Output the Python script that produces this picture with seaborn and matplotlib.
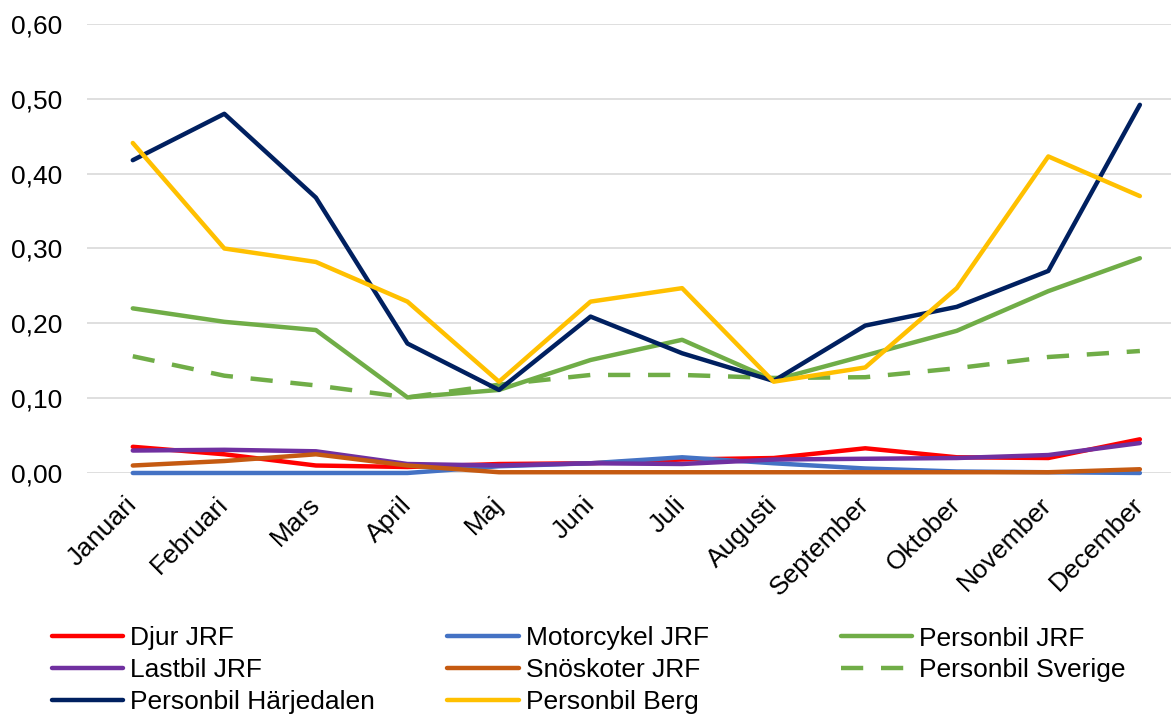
import numpy as np
import pandas as pd
import matplotlib
matplotlib.use("Agg")
import matplotlib.pyplot as plt
import seaborn as sns

# ------------------------------------------------------------
# Data
# ------------------------------------------------------------
months = ["Januari", "Februari", "Mars", "April", "Maj", "Juni", "Juli",
          "Augusti", "September", "Oktober", "November", "December"]

djur_jrf = [0.035, 0.025, 0.010, 0.008, 0.012, 0.013, 0.018, 0.020, 0.033, 0.021, 0.020, 0.045]
motorcykel_jrf = [0.000, 0.000, 0.000, 0.000, 0.009, 0.013, 0.021, 0.013, 0.006, 0.002, 0.001, 0.000]
personbil_jrf = [0.220, 0.202, 0.191, 0.101, 0.111, 0.151, 0.178, 0.124, 0.157, 0.190, 0.243, 0.287]
lastbil_jrf = [0.030, 0.031, 0.029, 0.012, 0.010, 0.013, 0.012, 0.018, 0.019, 0.020, 0.024, 0.040]
snoskoter_jrf = [0.010, 0.016, 0.025, 0.010, 0.001, 0.001, 0.001, 0.001, 0.001, 0.001, 0.001, 0.005]
personbil_sverige = [0.156, 0.130, 0.117, 0.101, 0.118, 0.131, 0.131, 0.127, 0.128, 0.140, 0.155, 0.163]
personbil_harjedalen = [0.418, 0.480, 0.368, 0.173, 0.111, 0.209, 0.160, 0.123, 0.197, 0.222, 0.270, 0.492]
personbil_berg = [0.441, 0.300, 0.282, 0.229, 0.122, 0.229, 0.247, 0.122, 0.141, 0.247, 0.423, 0.370]

series = [
    ("Djur JRF", djur_jrf, "#FF0000", None),
    ("Motorcykel JRF", motorcykel_jrf, "#4472C4", None),
    ("Personbil JRF", personbil_jrf, "#70AD47", None),
    ("Lastbil JRF", lastbil_jrf, "#7030A0", None),
    ("Snöskoter JRF", snoskoter_jrf, "#C55A11", None),
    ("Personbil Sverige", personbil_sverige, "#70AD47", (5, 4)),
    ("Personbil Härjedalen", personbil_harjedalen, "#002060", None),
    ("Personbil Berg", personbil_berg, "#FFC000", None),
]

# ------------------------------------------------------------
# Plot
# ------------------------------------------------------------
sns.set_style("white")
plt.rcParams["font.family"] = ["Liberation Sans", "DejaVu Sans"]
plt.rcParams["text.color"] = "black"
plt.rcParams["xtick.color"] = "black"
plt.rcParams["ytick.color"] = "black"
FS = 19

fig = plt.figure(figsize=(11.71, 7.16), dpi=100)
ax = fig.add_axes([0.0743, 0.3394, 0.9257, 0.6271])

x = np.arange(len(months))
handles = {}
for name, vals, color, dash in series:
    df = pd.DataFrame({"x": x, "y": vals})
    sns.lineplot(data=df, x="x", y="y", ax=ax, color=color, linewidth=3.2,
                 label=name, legend=False)
    line = ax.lines[-1]
    line.set_clip_on(False)
    line.set_solid_capstyle("round")
    if dash is not None:
        line.set_dashes(dash)
    handles[name] = line

ax.set_xlim(-0.5, 11.34)
ax.set_ylim(0, 0.6)
yt = np.arange(0, 0.61, 0.1)
ax.set_yticks(yt)
ax.set_yticklabels([f"{v:.2f}".replace(".", ",") for v in yt], fontsize=FS)
ax.set_xticks(x)
ax.set_xticklabels(months, rotation=45, ha="right", va="center",
                   rotation_mode="anchor", fontsize=FS)
ax.tick_params(axis="y", length=0, pad=18)
ax.tick_params(axis="x", length=0, pad=20)
ax.set_xlabel("")
ax.set_ylabel("")
ax.grid(axis="y", color="#D9D9D9", linewidth=1.2)
ax.set_axisbelow(True)
for s in ax.spines.values():
    s.set_visible(False)

# legend: three columns, Excel style (equal column widths)
columns = [["Djur JRF", "Lastbil JRF", "Personbil Härjedalen"],
           ["Motorcykel JRF", "Snöskoter JRF", "Personbil Berg"],
           ["Personbil JRF", "Personbil Sverige"]]
col_x = [0.044, 0.382, 0.718]
for names, cx in zip(columns, col_x):
    leg = fig.legend([handles[n] for n in names], names, loc="upper left",
                     bbox_to_anchor=(cx, 0.125), frameon=False, fontsize=FS,
                     handlelength=2.7, handletextpad=0.28, labelspacing=0.29,
                     borderpad=0, borderaxespad=0)

fig.savefig("out.png", dpi=100)
